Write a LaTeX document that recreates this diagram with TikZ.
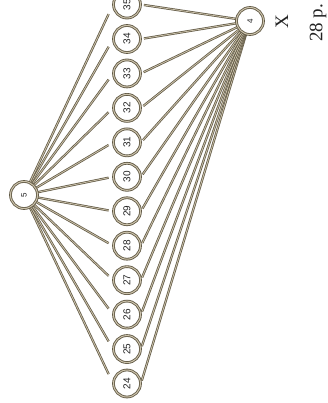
\documentclass[tikz,border=0pt]{standalone}
\usepackage{fontspec}
\usepackage{graphicx}
\setmainfont{Liberation Serif}
\newfontfamily\numfont{Liberation Sans}
\usetikzlibrary{calc,backgrounds}
\definecolor{rim}{HTML}{625A46}
\definecolor{rimin}{HTML}{CBC2AB}
\definecolor{ink}{HTML}{222222}
\newcommand\vtxt[1]{\rotatebox{90}{#1}}
\begin{document}
\begin{tikzpicture}[x=1pt,y=-1pt,
  dot/.style={circle, draw=rim, double=rimin, double distance=1pt,
    line width=0.85pt, fill=white, minimum size=27pt, inner sep=0pt,
    text=ink, font=\numfont\fontsize{10}{10}\selectfont},
  hub/.style={dot, font=\numfont\fontsize{8}{8}\selectfont},
  link/.style={draw=rim, double=rimin, double distance=0.8pt, line width=0.75pt},
  label/.style={text=ink, rotate=90, inner sep=0pt}]
\useasboundingbox (0,0) rectangle (328,403);
\clip (0,0) rectangle (328,403);

% hub nodes
\node[hub] (n5) at (24,195) {\vtxt{5}};
\node[hub] (n4) at (250,21) {\vtxt{4}};

% middle column
\foreach \i in {24,...,35}
  \node[dot] (n\i) at (127,{383.5-(\i-24)*34.45}) {\vtxt{\i}};

% labels beside node 4
\node[label, font=\fontsize{19}{19}\selectfont] (xl) at (282,22) {X};
\node[label, font=\fontsize{19}{19}\selectfont] (pl) at (318,23) {28 p.};

% connectors
\begin{pgfonlayer}{background}
\foreach \i in {24,...,35} {
  \coordinate (e\i) at ($(n5.center)!0.95!(n\i.west)$);
  \draw[link] (n5) -- (e\i);
  \draw[link, shorten <=3pt] (n\i.east) -- (n4);
}
\end{pgfonlayer}
\end{tikzpicture}
\end{document}
